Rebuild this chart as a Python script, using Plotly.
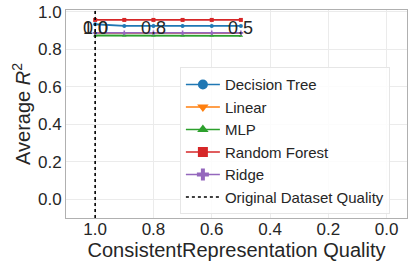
import plotly.graph_objects as go

quality = [1.0, 0.9, 0.8, 0.7, 0.6, 0.5]
models = ["Decision Tree", "Linear", "MLP", "Random Forest", "Ridge"]
r2_decision_tree = [0.934, 0.925, 0.925, 0.925, 0.925, 0.925]
r2_linear = [0.887, 0.887, 0.887, 0.887, 0.887, 0.887]
r2_mlp = [0.874, 0.874, 0.874, 0.874, 0.874, 0.872]
r2_random_forest = [0.957, 0.957, 0.957, 0.957, 0.957, 0.957]
r2_ridge = [0.888, 0.888, 0.888, 0.888, 0.888, 0.888]
original_quality = 1.0

x_ticks = [1.0, 0.8, 0.6, 0.4, 0.2, 0.0]
y_ticks = [0.0, 0.2, 0.4, 0.6, 0.8, 1.0]
inner_label_x = [1.0, 1.0, 0.8, 0.5]
inner_label_text = ["1.0", "0.0", "0.8", "0.5"]
inner_label_y = 0.915

series = [r2_decision_tree, r2_linear, r2_mlp, r2_random_forest, r2_ridge]
colors = ["#1f77b4", "#ff7f0e", "#2ca02c", "#d62728", "#9467bd"]
symbols = ["circle", "triangle-down", "triangle-up", "square", "cross"]

FONT = "Liberation Sans, Arial, sans-serif"
TXT = "#262626"

fig = go.Figure()
for i, (name, vals, c, s) in enumerate(zip(models, series, colors, symbols)):
    fig.add_trace(go.Scatter(
        x=quality, y=vals, mode="lines+markers", name=name,
        line=dict(color=c, width=1.8),
        marker=dict(symbol=s, size=4, color=c),
        legendgroup=name, showlegend=False,
    ))
    # legend entry with larger marker (as in the reference legend)
    fig.add_trace(go.Scatter(
        x=[None], y=[None], mode="lines+markers", name=name,
        line=dict(color=c, width=1.5),
        marker=dict(symbol=s, size=10, color=c),
        legendgroup=name, showlegend=True,
    ))

fig.add_trace(go.Scatter(
    x=[original_quality, original_quality], y=[-0.1, 1.01], mode="lines",
    name="Original Dataset Quality",
    line=dict(color="black", width=1.6, dash="dot"),
))

for xv, t in zip(inner_label_x, inner_label_text):
    fig.add_annotation(x=xv, y=inner_label_y, xref="x", yref="y", text=t,
                       showarrow=False, font=dict(family=FONT, size=18, color=TXT))

fig.update_layout(
    width=417, height=265,
    margin=dict(l=66, r=10, t=10, b=47),
    paper_bgcolor="white", plot_bgcolor="white",
    font=dict(family=FONT, color=TXT, size=17),
    showlegend=True,
    legend=dict(
        x=0.334, y=0.725, xanchor="left", yanchor="top",
        bgcolor="rgba(255,255,255,0.85)", bordercolor="#e6e6e6", borderwidth=1,
        font=dict(family=FONT, size=15, color=TXT),
        itemwidth=34, tracegroupgap=0,
    ),
)
fig.update_xaxes(
    range=[1.1, -0.07], tickvals=x_ticks, ticktext=[f"{v:.1f}" for v in x_ticks],
    showgrid=True, gridcolor="#ebebeb", gridwidth=1, zeroline=False,
    showline=True, linecolor="#b0b0b0", linewidth=1, mirror=True,
    tickfont=dict(size=17), ticks="", automargin=False,
    ticklabelstandoff=-4, ticklabeloverflow="allow",
    title=dict(text="ConsistentRepresentation Quality", font=dict(size=20), standoff=0),
)
fig.update_yaxes(
    range=[-0.1, 1.01], tickvals=y_ticks, ticktext=[f"{v:.1f}" for v in y_ticks],
    showgrid=True, gridcolor="#ebebeb", gridwidth=1, zeroline=False,
    showline=True, linecolor="#b0b0b0", linewidth=1, mirror=True,
    tickfont=dict(size=17), ticks="", automargin=False, ticklabeloverflow="allow",
    title=dict(text="Average <i>R</i><sup>2</sup>", font=dict(size=20), standoff=1),
)

# remove the browser's default 8px body margin so the figure fills the window
fig.write_html("out.html", config={"displayModeBar": False},
               post_script="document.body.style.margin='0';")
